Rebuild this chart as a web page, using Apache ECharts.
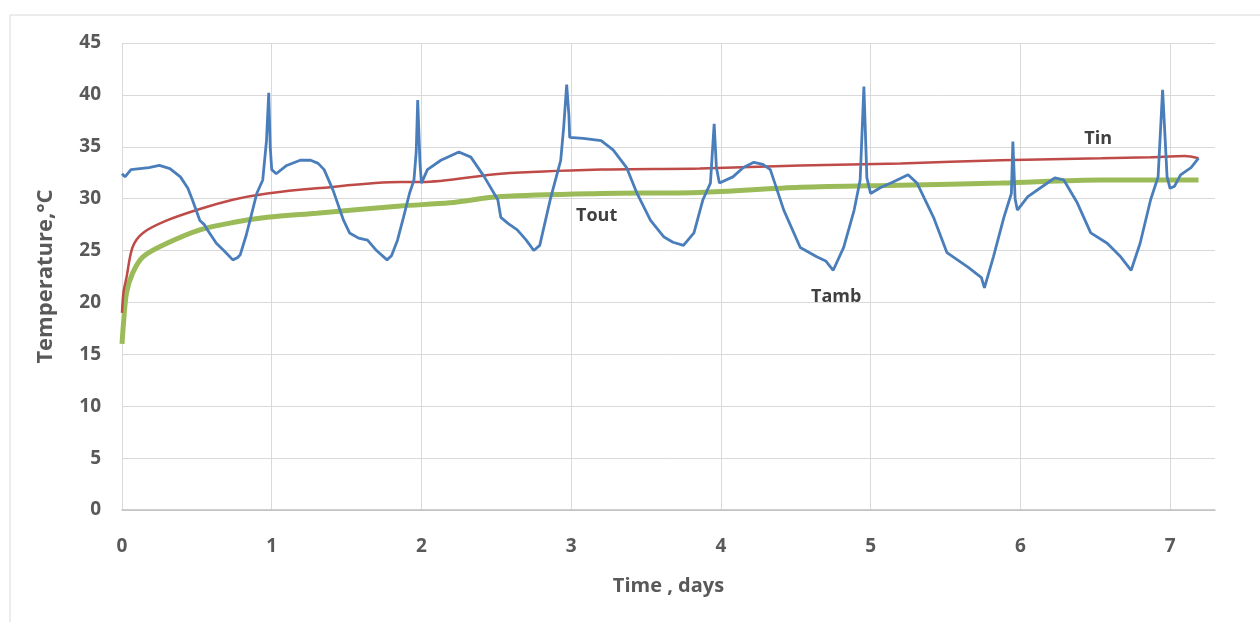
<!DOCTYPE html>
<html>
<head>
<meta charset="utf-8">
<script src="https://cdn.jsdelivr.net/npm/echarts@6/dist/echarts.min.js"></script>
<style>
  html, body { margin: 0; padding: 0; background: #fff; }
  #chart { width: 1260px; height: 622px; }
</style>
</head>
<body>
<div id="chart"></div>
<script>
// Tamb (blue)
const tambDays = [0.00, 0.02, 0.06, 0.12, 0.18, 0.25, 0.32, 0.39, 0.44, 0.47, 0.52, 0.55, 0.57, 0.63, 0.68, 0.74, 0.77, 0.79, 0.83, 0.86, 0.90, 0.94, 0.965, 0.98, 0.99, 1.00, 1.03, 1.10, 1.19, 1.26, 1.31, 1.35, 1.41, 1.48, 1.52, 1.58, 1.64, 1.70, 1.77, 1.80, 1.84, 1.88, 1.92, 1.95, 1.965, 1.975, 1.99, 2.00, 2.04, 2.13, 2.25, 2.33, 2.42, 2.51, 2.53, 2.58, 2.64, 2.70, 2.75, 2.79, 2.86, 2.93, 2.95, 2.97, 2.985, 2.99, 3.08, 3.20, 3.28, 3.37, 3.44, 3.53, 3.62, 3.68, 3.75, 3.82, 3.88, 3.93, 3.955, 3.97, 3.99, 4.08, 4.15, 4.22, 4.28, 4.33, 4.42, 4.53, 4.64, 4.70, 4.75, 4.82, 4.89, 4.93, 4.955, 4.975, 5.00, 5.07, 5.15, 5.25, 5.31, 5.42, 5.51, 5.65, 5.74, 5.76, 5.82, 5.89, 5.94, 5.95, 5.965, 5.98, 6.05, 6.14, 6.23, 6.29, 6.38, 6.47, 6.58, 6.67, 6.74, 6.80, 6.87, 6.92, 6.95, 6.98, 7.00, 7.03, 7.07, 7.14, 7.19];
const tambVals = [32.4, 32.1, 32.8, 32.9, 33.0, 33.2, 32.9, 32.1, 31.0, 29.9, 27.9, 27.5, 27.0, 25.7, 25.0, 24.1, 24.3, 24.6, 26.5, 28.2, 30.5, 31.8, 35.6, 40.2, 35.0, 32.8, 32.4, 33.2, 33.7, 33.7, 33.4, 32.8, 30.8, 27.9, 26.7, 26.2, 26.0, 25.0, 24.1, 24.5, 26.0, 28.2, 30.5, 31.8, 34.5, 39.5, 33.5, 31.5, 32.8, 33.7, 34.5, 34.0, 32.1, 29.9, 28.2, 27.6, 27.0, 26.0, 25.0, 25.5, 29.9, 33.7, 36.9, 41.0, 38.0, 35.9, 35.8, 35.6, 34.7, 33.0, 30.5, 27.9, 26.3, 25.8, 25.5, 26.7, 29.9, 31.5, 37.2, 33.0, 31.5, 32.1, 33.0, 33.5, 33.3, 32.8, 28.9, 25.3, 24.4, 24.0, 23.1, 25.3, 28.9, 31.8, 40.8, 32.0, 30.5, 31.1, 31.6, 32.3, 31.5, 28.2, 24.8, 23.4, 22.4, 21.4, 24.4, 28.2, 30.5, 35.5, 30.0, 28.9, 30.2, 31.1, 32.0, 31.8, 29.6, 26.7, 25.7, 24.4, 23.1, 25.7, 29.9, 32.1, 40.5, 32.1, 31.0, 31.2, 32.3, 33.0, 33.9];

// Tin (red)
const tinDays = [0.00, 0.01, 0.03, 0.07, 0.14, 0.30, 0.52, 0.74, 0.97, 1.30, 1.86, 2.00, 2.53, 3.20, 3.86, 4.53, 5.20, 5.87, 6.54, 6.87, 7.10, 7.19];
const tinVals = [19.0, 21.0, 22.4, 25.3, 26.7, 27.9, 29.0, 29.9, 30.5, 31.0, 31.6, 31.6, 32.4, 32.8, 32.9, 33.2, 33.4, 33.7, 33.9, 34.0, 34.1, 33.9];

// Tout (green)
const toutDays = [0.00, 0.01, 0.03, 0.07, 0.14, 0.30, 0.52, 0.74, 0.97, 1.30, 1.86, 2.19, 2.53, 3.20, 3.86, 4.53, 5.20, 5.87, 6.54, 7.19];
const toutVals = [16.0, 18.0, 20.9, 22.8, 24.4, 25.7, 27.0, 27.7, 28.2, 28.6, 29.3, 29.6, 30.2, 30.5, 30.6, 31.1, 31.3, 31.5, 31.8, 31.8];

// curve labels: [day, temperature]
const labelNames = ["Tin", "Tout", "Tamb"];
const labelCoords = [[6.52, 35.8], [3.17, 28.3], [4.77, 20.5]];

const pairs = (xs, ys) => xs.map((x, i) => [x, ys[i]]);

const font = "'Open Sans', Lato, sans-serif";
const textGray = "#595959";

const chart = echarts.init(document.getElementById("chart"));

chart.setOption({
  backgroundColor: "#fff",
  animation: false,
  graphic: [
    {
      type: "rect",
      shape: { x: 10, y: 15, width: 1400, height: 800 },
      style: { fill: "none", stroke: "#d9d9d9", lineWidth: 1 },
      silent: true
    }
  ],
  grid: { left: 122, right: 45, top: 43, bottom: 112 },
  xAxis: {
    type: "value",
    min: 0,
    max: 7.3,
    interval: 1,
    name: "Time , days",
    nameLocation: "middle",
    nameGap: 66,
    nameTextStyle: { color: textGray, fontFamily: font, fontWeight: "bold", fontSize: 20 },
    axisLine: { show: true, lineStyle: { color: "#bfbfbf", width: 1.5 } },
    axisTick: { show: false },
    axisLabel: {
      color: textGray, fontFamily: font, fontWeight: "bold", fontSize: 19, margin: 27,
      showMaxLabel: false,
      formatter: (v) => (Number.isInteger(v) ? String(v) : "")
    },
    splitLine: { show: true, showMinLine: true, showMaxLine: false, lineStyle: { color: "#d9d9d9", width: 1 } }
  },
  yAxis: {
    type: "value",
    min: 0,
    max: 45,
    interval: 5,
    name: "Temperature,°C",
    nameLocation: "middle",
    nameGap: 65,
    nameTextStyle: { color: textGray, fontFamily: font, fontWeight: "bold", fontSize: 22 },
    axisLine: { show: false },
    axisTick: { show: false },
    axisLabel: { color: textGray, fontFamily: font, fontWeight: "bold", fontSize: 19, margin: 21 },
    splitLine: { show: true, lineStyle: { color: "#d9d9d9", width: 1 } }
  },
  series: [
    {
      name: "Tout",
      type: "line",
      data: pairs(toutDays, toutVals),
      showSymbol: false,
      smooth: 0.3,
      lineStyle: { color: "#9bbb59", width: 5 },
      z: 2
    },
    {
      name: "Tin",
      type: "line",
      data: pairs(tinDays, tinVals),
      showSymbol: false,
      smooth: 0.3,
      lineStyle: { color: "#be4b48", width: 2.5 },
      z: 3
    },
    {
      name: "Tamb",
      type: "line",
      data: pairs(tambDays, tambVals),
      showSymbol: false,
      lineStyle: { color: "#4a7ebb", width: 2.8 },
      z: 4,
      markPoint: {
        symbol: "circle",
        symbolSize: 0,
        silent: true,
        label: {
          show: true,
          position: "inside",
          color: "#404040",
          fontFamily: font,
          fontWeight: "bold",
          fontSize: 18,
          formatter: (p) => p.name
        },
        data: labelNames.map((n, i) => ({ name: n, coord: labelCoords[i] }))
      }
    }
  ]
});
</script>
</body>
</html>
